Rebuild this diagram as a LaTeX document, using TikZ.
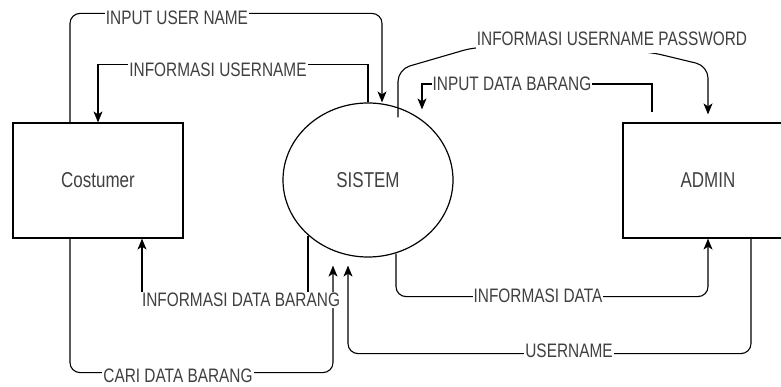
\documentclass[tikz,border=0pt]{standalone}
\usepackage{fontspec}
\setmainfont{Liberation Sans}[FakeStretch=0.79]
\usetikzlibrary{arrows.meta,shapes.geometric}

\begin{document}
\begin{tikzpicture}[x=1pt,y=-1pt,
  entity/.style={draw,line width=1.2pt,minimum width=170pt,minimum height=115pt,inner sep=0pt,text=black!75,font=\fontsize{21.5}{23}\selectfont},
  process/.style={ellipse,draw,line width=1.2pt,minimum width=170pt,minimum height=154pt,inner sep=0pt,text=black!75,font=\fontsize{21.5}{23}\selectfont},
  flow/.style={line width=1.1pt,-{Stealth[length=11pt,width=9pt,inset=3pt]}},
  flowlbl/.style={fill=white,inner sep=1pt,text=black!75,font=\fontsize{19.5}{21}\selectfont}]
\useasboundingbox (0,0) rectangle (781,387);
\clip (0,0) rectangle (781,387);
\node [entity] (costumer) at (98,180.5) {Costumer};
\node [process] (sistem) at (368,180) {SISTEM};
\node [entity] (admin) at (708,180.5) {ADMIN};
% costumer <-> sistem
\draw [flow,rounded corners=10pt] ([xshift=-28pt]costumer.north) -- ++(0,-109) -| ([xshift=14pt]sistem.north);
\draw [flow] (sistem.north) -- ++(0,-38) -| (costumer.north);
\draw [flow] ([xshift=-60pt,yshift=22pt]sistem.south) -- ++(0,61) -| ([xshift=44pt]costumer.south);
\draw [flow,rounded corners=10pt] ([xshift=-28pt]costumer.south) -- ++(0,134) -| ([xshift=-35pt,yshift=-8pt]sistem.south);
% sistem <-> admin
\draw [flow,rounded corners=12pt] ([xshift=30pt,yshift=-15pt]sistem.north) -- ++(0,-48) -- (475,47) -- (650,52) -- (708,66) -- ([yshift=8pt]admin.north);
\draw [flow] ([xshift=-56pt,yshift=10pt]admin.north) |- (422,84) -- ([xshift=54pt,yshift=-7pt]sistem.north);
\draw [flow,rounded corners=10pt] ([xshift=28pt,yshift=4pt]sistem.south) -- ++(0,43) -| (admin.south);
\draw [flow,rounded corners=10pt] ([xshift=43pt]admin.south) -- ++(0,115) -| ([xshift=-20pt,yshift=-8pt]sistem.south);
% labels
\node [flowlbl] (inuser) at (177,18) {INPUT USER NAME};
\node [flowlbl] (infouser) at (218,70) {INFORMASI USERNAME};
\node [flowlbl,anchor=base,text depth=6pt] (infopass) at (612,46) {INFORMASI USERNAME PASSWORD};
\node [flowlbl] (inbarang) at (512,84) {INPUT DATA BARANG};
\node [flowlbl] (infobarang) at (241,300) {INFORMASI DATA BARANG};
\node [flowlbl] (caribarang) at (178,376) {CARI DATA BARANG};
\node [flowlbl] (infodata) at (538,296) {INFORMASI DATA};
\node [flowlbl] (uname) at (569,351) {USERNAME};
\end{tikzpicture}
\end{document}
